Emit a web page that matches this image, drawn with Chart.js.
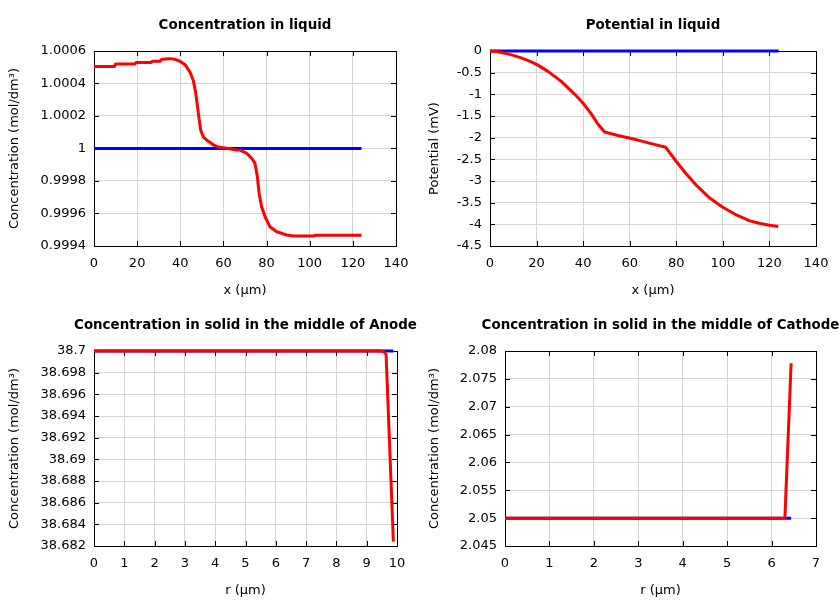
<!DOCTYPE html>
<html>
<head>
<meta charset="utf-8">
<script src="https://cdn.jsdelivr.net/npm/chart.js@4.4.1/dist/chart.umd.min.js"></script>
<style>
  body { margin: 0; background: #fff; }
  #wrap { position: relative; width: 840px; height: 600px; }
  #wrap canvas { position: absolute; }
</style>
</head>
<body>
<div id="wrap">
  <canvas id="liqConc" width="420" height="300" style="left:0;top:0"></canvas>
  <canvas id="liqPot" width="420" height="300" style="left:420px;top:0"></canvas>
  <canvas id="anode" width="420" height="300" style="left:0;top:300px"></canvas>
  <canvas id="cathode" width="420" height="300" style="left:420px;top:300px"></canvas>
</div>
<script>
// concentration in liquid vs x (um)
const concX = [0, 9.5, 10, 19, 19.5, 26.5, 27, 30.6, 31.2, 32.9, 35.2, 37.5, 39.9, 42.2, 44.5, 46, 47.1, 47.9,
  48.7, 49.5, 50.7, 53, 55.3, 57.6, 59.9, 63, 66, 67.7, 70.8, 73.1, 74.6, 75.7, 76.6, 77.7, 79.3, 81.6, 84.7,
  89.3, 92.4, 102, 102.5, 124];
const concY = [1.000505, 1.000505, 1.00052, 1.00052, 1.00053, 1.00053, 1.000537, 1.000537, 1.000547, 1.000551,
  1.000553, 1.000549, 1.000537, 1.000516, 1.00047, 1.00042, 1.000348, 1.000266, 1.000183, 1.000112, 1.00007,
  1.000044, 1.000023, 1.000009, 1.000004, 0.999998, 0.999991, 0.99999, 0.99997, 0.99994, 0.99991, 0.99983,
  0.99972, 0.999642, 0.99958, 0.999518, 0.999488, 0.999468, 0.999462, 0.999462, 0.999466, 0.999466];
const concInitX = [0, 124];
const concInitY = [1, 1];

// potential in liquid (mV)
const potX = [0, 3, 6.3, 10, 13.4, 17, 20.2, 24.9, 30.6, 36.4, 39.9, 43.5, 46.4, 49.2, 55, 63, 70.1, 75.4,
  80, 84.5, 88.8, 94.5, 99.8, 106, 111.6, 116, 120, 123.8];
const potY = [0, -0.012, -0.05, -0.1, -0.16, -0.235, -0.315, -0.47, -0.7, -1.0, -1.2, -1.45, -1.69, -1.87, -1.95,
  -2.05, -2.15, -2.22, -2.55, -2.85, -3.11, -3.40, -3.60, -3.79, -3.92, -3.98, -4.02, -4.05];
const potInitX = [0, 124];
const potInitY = [0, 0];

// solid concentration, middle of anode, vs r (um)
const anodeR = [0, 9.45, 9.55, 9.64, 9.88];
const anodeY = [38.7, 38.7, 38.69995, 38.6997, 38.6824];
const anodeInitR = [0, 9.88];
const anodeInitY = [38.7, 38.7];

// solid concentration, middle of cathode
const cathR = [0, 6.3, 6.44];
const cathY = [2.05, 2.05, 2.0778];
const cathInitR = [0, 6.44];
const cathInitY = [2.05, 2.05];

// axis ticks
const xTicksLiq = [0, 20, 40, 60, 80, 100, 120, 140];
const yTicksConc = [0.9994, 0.9996, 0.9998, 1, 1.0002, 1.0004, 1.0006];
const yTicksPot = [-4.5, -4, -3.5, -3, -2.5, -2, -1.5, -1, -0.5, 0];
const xTicksAnode = [0, 1, 2, 3, 4, 5, 6, 7, 8, 9, 10];
const yTicksAnode = [38.682, 38.684, 38.686, 38.688, 38.69, 38.692, 38.694, 38.696, 38.698, 38.7];
const xTicksCath = [0, 1, 2, 3, 4, 5, 6, 7];
const yTicksCath = [2.045, 2.05, 2.055, 2.06, 2.065, 2.07, 2.075, 2.08];

const concLabel = 'Concentration (mol/dm\u00b3)';

Chart.defaults.font.family = "'DejaVu Sans', sans-serif";
Chart.defaults.font.size = 13;
Chart.defaults.color = '#000';

const zip = (xs, ys) => xs.map((x, i) => ({ x: x, y: ys[i] }));
const fmt = v => String(+v.toFixed(6));

// gnuplot style box with inward ticks on all four sides, plus the panel title
const frame = {
  id: 'frame',
  beforeDatasetsDraw(chart) {
    const { ctx, chartArea: a, scales } = chart;
    ctx.save();
    ctx.strokeStyle = '#000';
    ctx.lineWidth = 1;
    ctx.beginPath();
    scales.x.ticks.forEach(t => {
      const px = Math.round(scales.x.getPixelForValue(t.value)) + 0.5;
      ctx.moveTo(px, a.bottom); ctx.lineTo(px, a.bottom - 5);
      ctx.moveTo(px, a.top); ctx.lineTo(px, a.top + 5);
    });
    scales.y.ticks.forEach(t => {
      const py = Math.round(scales.y.getPixelForValue(t.value)) + 0.5;
      ctx.moveTo(a.left, py); ctx.lineTo(a.left + 5, py);
      ctx.moveTo(a.right, py); ctx.lineTo(a.right - 5, py);
    });
    ctx.stroke();
    ctx.strokeRect(Math.round(a.left) + 0.5, Math.round(a.top) + 0.5,
      Math.round(a.right - a.left), Math.round(a.bottom - a.top));
    ctx.restore();
  },
  afterDraw(chart, args, opts) {
    const { ctx, chartArea: a } = chart;
    ctx.save();
    ctx.font = "bold 13.4px 'DejaVu Sans', sans-serif";
    ctx.fillStyle = '#000';
    ctx.textAlign = 'center';
    ctx.textBaseline = 'middle';
    ctx.fillText(opts.text, (a.left + a.right) / 2, 26);
    ctx.restore();
  }
};

function makeChart(id, p) {
  new Chart(document.getElementById(id), {
    type: 'line',
    data: {
      datasets: [
        { data: zip(p.redX, p.redY), borderColor: '#ff0000', borderWidth: 3, pointRadius: 0,
          borderJoinStyle: 'round', clip: false },
        { data: zip(p.blueX, p.blueY), borderColor: '#0000ff', borderWidth: 3, pointRadius: 0, clip: false }
      ]
    },
    options: {
      responsive: false,
      animation: false,
      devicePixelRatio: 1,
      layout: { padding: { left: 0, right: p.right, top: 51, bottom: 0 } },
      plugins: { legend: { display: false }, tooltip: { enabled: false }, frame: { text: p.title } },
      scales: {
        x: {
          type: 'linear',
          min: p.xTicks[0], max: p.xTicks[p.xTicks.length - 1],
          afterBuildTicks: s => { s.ticks = p.xTicks.map(v => ({ value: v })); },
          afterFit: s => { s.height = 54; },
          grid: { color: '#d4d4d4', drawTicks: false },
          border: { display: false },
          ticks: { padding: 10, maxRotation: 0, callback: fmt },
          title: { display: true, text: p.xTitle, padding: { top: 0, bottom: 2 } }
        },
        y: {
          type: 'linear',
          min: p.yTicks[0], max: p.yTicks[p.yTicks.length - 1],
          afterBuildTicks: s => { s.ticks = p.yTicks.map(v => ({ value: v })); },
          afterFit: s => { s.width = p.left; },
          grid: { color: '#d4d4d4', drawTicks: false },
          border: { display: false },
          ticks: { padding: 8, callback: fmt },
          title: { display: true, text: p.yTitle, padding: { top: 7, bottom: 0 } }
        }
      }
    },
    plugins: [frame]
  });
}

makeChart('liqConc', {
  title: 'Concentration in liquid', left: 94, right: 24,
  redX: concX, redY: concY, blueX: concInitX, blueY: concInitY,
  xTicks: xTicksLiq, yTicks: yTicksConc, xTitle: 'x (\u00b5m)', yTitle: concLabel
});
makeChart('liqPot', {
  title: 'Potential in liquid', left: 70, right: 24,
  redX: potX, redY: potY, blueX: potInitX, blueY: potInitY,
  xTicks: xTicksLiq, yTicks: yTicksPot, xTitle: 'x (\u00b5m)', yTitle: 'Potential (mV)'
});
makeChart('anode', {
  title: 'Concentration in solid in the middle of Anode', left: 94, right: 23,
  redX: anodeR, redY: anodeY, blueX: anodeInitR, blueY: anodeInitY,
  xTicks: xTicksAnode, yTicks: yTicksAnode, xTitle: 'r (\u00b5m)', yTitle: concLabel
});
makeChart('cathode', {
  title: 'Concentration in solid in the middle of Cathode', left: 85, right: 24,
  redX: cathR, redY: cathY, blueX: cathInitR, blueY: cathInitY,
  xTicks: xTicksCath, yTicks: yTicksCath, xTitle: 'r (\u00b5m)', yTitle: concLabel
});
</script>
</body>
</html>
